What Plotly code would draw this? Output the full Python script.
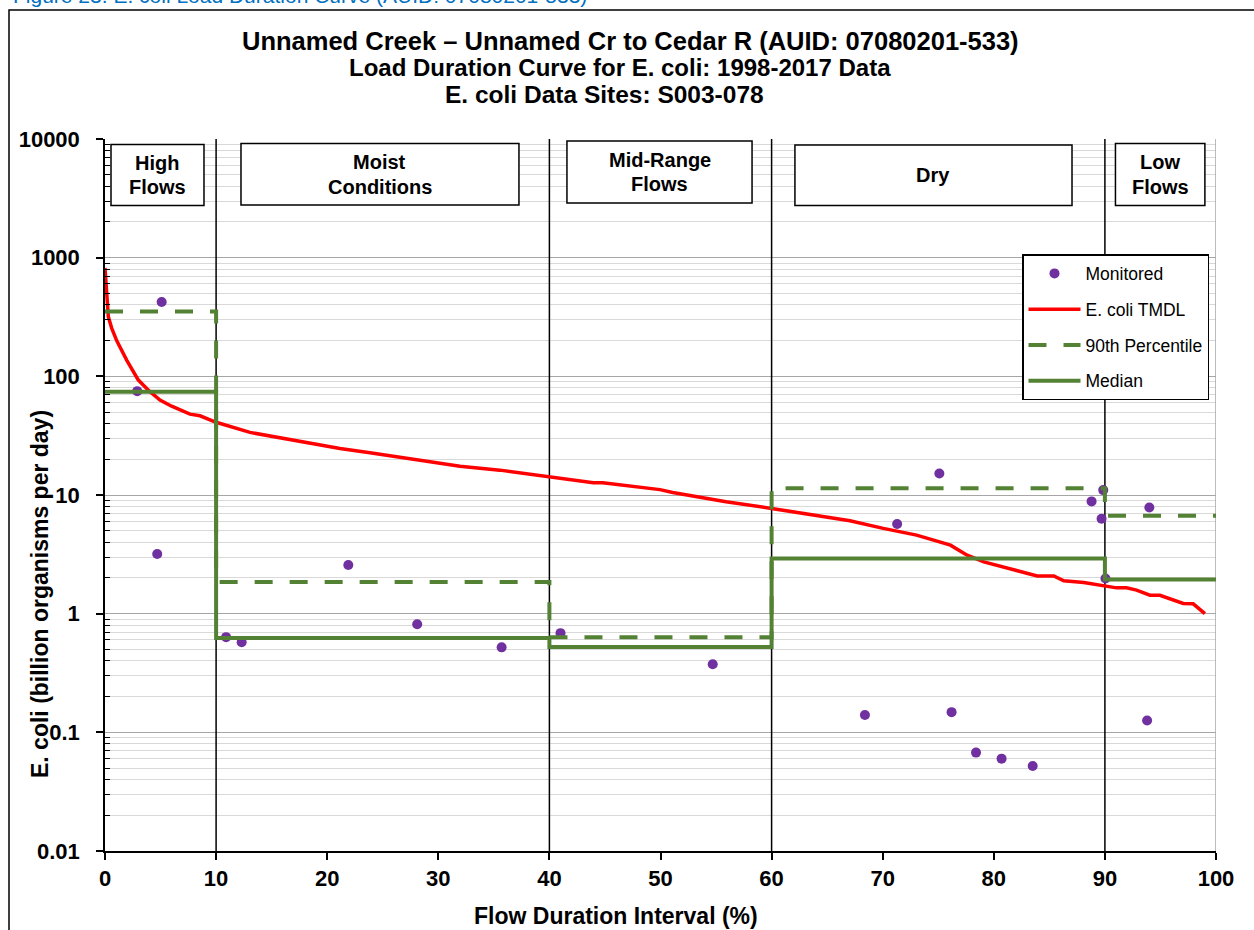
import plotly.graph_objects as go

# Flow duration zones (percent of time flow is exceeded)
zone_edges = [0, 10, 40, 60, 90, 100]
zone_labels = [["High", "Flows"], ["Moist", "Conditions"], ["Mid-Range", "Flows"], ["Dry"], ["Low", "Flows"]]

# E. coli TMDL load duration curve (billion organisms per day)
tmdl_x = [0, 0.15, 0.3, 0.6, 1.05, 1.95, 3.0, 4.0, 4.95, 6.0, 7.65, 8.55, 10.0, 13.05,
          17.55, 21.15, 23.85, 28.0, 31.95, 35.55, 39.9, 43.95, 44.8, 49.95, 51.1, 55.9,
          60.0, 64.65, 67.05, 70.05, 73.05, 76.1, 77.6, 79.1, 82.1, 83.9, 85.4, 86.3,
          88.1, 90.0, 91.05, 91.95, 92.85, 94.05, 94.95, 97.05, 97.95, 99.0]
tmdl_y = [819, 440, 318, 255, 200, 137, 93, 75, 63, 56, 48, 46.5, 41, 33.7,
          28.1, 24.7, 22.7, 20.0, 17.5, 16.2, 14.4, 12.7, 12.7, 11.1, 10.5, 8.77,
          7.71, 6.64, 6.07, 5.23, 4.59, 3.78, 3.11, 2.73, 2.28, 2.08, 2.08, 1.89,
          1.83, 1.71, 1.65, 1.65, 1.58, 1.43, 1.43, 1.22, 1.21, 1.00]

# Monitored E. coli loads at site S003-078
mon_x = [2.9, 5.1, 4.7, 10.9, 12.3, 21.9, 28.1, 35.7, 41.0, 54.7, 68.4, 71.3, 75.1,
         76.2, 78.4, 80.7, 83.5, 88.8, 89.85, 89.7, 90.05, 94.0, 93.8]
mon_y = [75, 423, 3.18, 0.634, 0.575, 2.57, 0.815, 0.52, 0.685, 0.375, 0.14, 5.7, 15.2,
         0.148, 0.0675, 0.060, 0.052, 8.83, 11.0, 6.3, 1.98, 7.85, 0.126]

# Zone statistics of the monitored loads
p90_vals = [351, 1.85, 0.634, 11.4, 6.68]
median_vals = [74, 0.625, 0.524, 2.92, 1.94]

# Axis ticks
y_min, y_max = 0.01, 10000
y_ticks = [0.01, 0.1, 1, 10, 100, 1000, 10000]
y_ticktext = ["0.01", "0.1", "1", "10", "100", "1000", "10000"]
x_ticks = list(range(0, 101, 10))

FONT = "Arial, Liberation Sans, sans-serif"
GREEN = "#548235"
PURPLE = "#7030A0"

fig = go.Figure()

# zone divider lines spanning the full value range
div_x, div_y = [], []
for xv in zone_edges[1:-1]:
    div_x += [xv, xv, None]
    div_y += [y_min, y_max, None]
fig.add_trace(go.Scatter(x=div_x, y=div_y, mode="lines", showlegend=False, hoverinfo="skip",
                         line=dict(color="black", width=1.5), cliponaxis=False))
# right edge of the plot area
fig.add_trace(go.Scatter(x=[100, 100], y=[y_min, y_max], mode="lines", showlegend=False,
                         hoverinfo="skip", line=dict(color="#A6A6A6", width=1.5)))

fig.add_trace(go.Scatter(
    x=mon_x, y=mon_y, mode="markers", name="Monitored", legendgroup="a",
    marker=dict(color=PURPLE, size=10, line=dict(width=0)),
))
fig.add_trace(go.Scatter(
    x=tmdl_x, y=tmdl_y, mode="lines", name="E. coli TMDL", legendgroup="b",
    line=dict(color="#FF0000", width=3.5),
))
fig.add_trace(go.Scatter(
    x=zone_edges, y=p90_vals + [p90_vals[-1]], mode="lines", name="90th Percentile",
    legendgroup="c", line=dict(color=GREEN, width=4, dash="18px,17px", shape="hv"),
))
fig.add_trace(go.Scatter(
    x=zone_edges, y=median_vals + [median_vals[-1]], mode="lines", name="Median",
    legendgroup="d", line=dict(color=GREEN, width=4, shape="hv"),
))


def py(p):
    return (851 - p) / 712


shapes = []
annotations = []

# zone label boxes
box_x = [(0.54, 8.91), (12.24, 37.26), (41.58, 58.24), (62.1, 87.04), (90.95, 99.0)]
box_py = [(144.5, 205.5), (143.5, 205), (141, 203), (145, 205.5), (143.5, 205.5)]
for (x0, x1), (t, b), lines in zip(box_x, box_py, zone_labels):
    shapes.append(dict(type="rect", xref="x", yref="paper", x0=x0, x1=x1, y0=py(b), y1=py(t),
                       fillcolor="white", line=dict(color="black", width=1.5), layer="above"))
    mid = (t + b) / 2
    n = len(lines)
    for i, txt in enumerate(lines):
        yc = mid + (i - (n - 1) / 2) * 24.5
        annotations.append(dict(text=txt, xref="x", yref="paper", x=(x0 + x1) / 2, y=py(yc),
                                xanchor="center", yanchor="middle", showarrow=False,
                                font=dict(family=FONT, size=20, color="black", weight="bold")))

# outer frame
shapes.append(dict(type="rect", xref="paper", yref="paper", x0=(9 - 105) / 1111, x1=1.05,
                   y0=-0.2, y1=py(10), line=dict(color="black", width=1.5), layer="above"))

# chart title
title_lines = ["Unnamed Creek \u2013 Unnamed Cr to Cedar R (AUID: 07080201-533)",
               "Load Duration Curve for E. coli: 1998-2017 Data",
               "E. coli Data Sites: S003-078"]
title_cx = [630, 620, 604]
title_cy = [41, 67.5, 94]
title_size = [25.5, 24, 24.5]
for txt, cx, cy, fs in zip(title_lines, title_cx, title_cy, title_size):
    annotations.append(dict(text=txt, xref="paper", yref="paper", x=(cx - 105) / 1111, y=py(cy),
                            xanchor="center", yanchor="middle", showarrow=False,
                            font=dict(family=FONT, size=fs, color="black", weight="bold")))

# axis titles
annotations.append(dict(text="Flow Duration Interval (%)", xref="paper", yref="paper",
                        x=(616 - 105) / 1111, y=py(916), xanchor="center", yanchor="middle",
                        showarrow=False, font=dict(family=FONT, size=23, color="black", weight="bold")))
annotations.append(dict(text="E. coli (billion organisms per day)", xref="paper", yref="paper",
                        x=(40 - 105) / 1111, y=py(594), xanchor="center", yanchor="middle",
                        textangle=-90, showarrow=False,
                        font=dict(family=FONT, size=23, color="black", weight="bold")))

# document caption above the chart
annotations.append(dict(text="Figure 23. E. coli Load Duration Curve (AUID: 07080201-533)",
                        xref="paper", yref="paper", x=(11 - 105) / 1111, y=py(9),
                        xanchor="left", yanchor="bottom", showarrow=False,
                        font=dict(family=FONT, size=21, color="#0070C0")))

minor_vals = [k * 10 ** e for e in range(-2, 4) for k in range(2, 10)]

fig.update_layout(
    width=1254, height=930,
    margin=dict(l=105, r=38, t=139, b=79),
    paper_bgcolor="white", plot_bgcolor="white",
    font=dict(family=FONT, color="black"),
    shapes=shapes, annotations=annotations,
    showlegend=True,
    legend=dict(x=(1022 - 105) / 1111, y=py(254), xanchor="left", yanchor="top",
                bgcolor="white", bordercolor="black", borderwidth=1.5,
                font=dict(family=FONT, size=17.5, color="black"),
                itemwidth=52, tracegroupgap=10, traceorder="grouped"),
)

fig.update_xaxes(
    range=[0, 100], tickmode="array", tickvals=x_ticks,
    showgrid=False, zeroline=False,
    showline=True, linecolor="black", linewidth=1.5,
    ticks="outside", ticklen=7, tickcolor="black", tickwidth=1.5,
    tickfont=dict(family=FONT, size=22, color="black", weight="bold"),
)
fig.update_yaxes(
    type="log", range=[-2, 4], tickmode="array", tickvals=y_ticks, ticktext=y_ticktext,
    showgrid=True, gridcolor="#A6A6A6", gridwidth=1, zeroline=False,
    showline=True, linecolor="black", linewidth=1.5,
    ticks="outside", ticklen=7, tickcolor="black", tickwidth=1.5,
    ticklabelstandoff=12,
    tickfont=dict(family=FONT, size=22, color="black", weight="bold"),
    minor=dict(tickmode="array", tickvals=minor_vals, ticks="inside", ticklen=5,
               tickcolor="black", tickwidth=1, showgrid=True, gridcolor="#D9D9D9", gridwidth=1),
)

fig.write_html("out.html")
